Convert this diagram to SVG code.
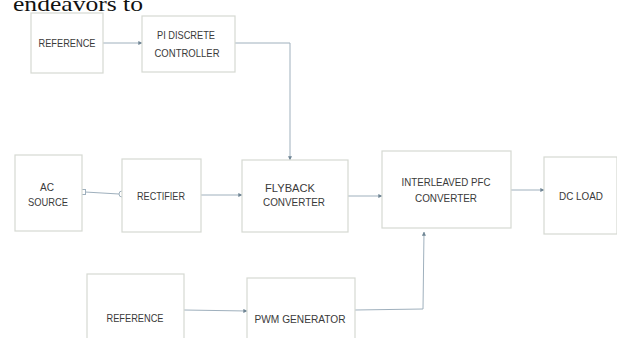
<svg xmlns="http://www.w3.org/2000/svg" width="617" height="338" viewBox="0 0 617 338">
<defs>
<style>
.box{fill:#ffffff;stroke:#d6d9d2;stroke-width:1.2}
.lbl{font-family:"Liberation Sans",Arial,sans-serif;font-size:11px;fill:#3a3a3a;text-anchor:middle;dominant-baseline:central}
.con{fill:none;stroke:#9fb0bd;stroke-width:1}
</style>
<marker id="arr" viewBox="0 0 6 6" refX="5.5" refY="3" markerWidth="4" markerHeight="4" orient="auto" markerUnits="userSpaceOnUse">
<path d="M0,0 L6,3 L0,6 z" fill="#6f8594"/>
</marker>
</defs>
<rect width="617" height="338" fill="#ffffff"/>
<text x="13" y="11" font-family="Liberation Serif,serif" font-size="22" fill="#111" textLength="130" lengthAdjust="spacingAndGlyphs">endeavors to</text>
<g id="connectors">
<path class="con" d="M103,43 L142,43" marker-end="url(#arr)"/>
<path class="con" d="M235,43 L290,43 L290,160" marker-end="url(#arr)"/>
<path class="con" d="M85,192 L119,194"/>
<path class="con" d="M201,195 L242,195" marker-end="url(#arr)"/>
<path class="con" d="M348,196 L382,196" marker-end="url(#arr)"/>
<path class="con" d="M511,190 L544,190" marker-end="url(#arr)"/>
<path class="con" d="M184,310 L247,311" marker-end="url(#arr)"/>
<path class="con" d="M355,310 L423,309 L424,232" marker-end="url(#arr)"/>
<rect x="80.5" y="189.5" width="5" height="5" fill="#ffffff" stroke="#9fb0bd" stroke-width="1"/>
<path d="M122,191 A3,3 0 0 0 122,197" fill="#ffffff" stroke="#9fb0bd" stroke-width="1"/>
</g>
<g id="reference-top">
<rect class="box" x="31" y="13" width="72" height="60"/>
<text class="lbl" x="67" y="43" textLength="57" lengthAdjust="spacingAndGlyphs">REFERENCE</text>
</g>
<g id="pi-controller">
<rect class="box" x="142" y="16" width="93" height="56"/>
<text class="lbl" x="186" y="35" textLength="58" lengthAdjust="spacingAndGlyphs">PI DISCRETE</text>
<text class="lbl" x="187" y="53" textLength="65" lengthAdjust="spacingAndGlyphs">CONTROLLER</text>
</g>
<g id="ac-source">
<rect class="box" x="15" y="155" width="67" height="76"/>
<text class="lbl" x="47" y="187" textLength="14" lengthAdjust="spacingAndGlyphs">AC</text>
<text class="lbl" x="48" y="202" textLength="40" lengthAdjust="spacingAndGlyphs">SOURCE</text>
</g>
<g id="rectifier">
<rect class="box" x="122" y="159" width="79" height="73"/>
<text class="lbl" x="161" y="196" textLength="48" lengthAdjust="spacingAndGlyphs">RECTIFIER</text>
</g>
<g id="flyback">
<rect class="box" x="242" y="160" width="106" height="72"/>
<text class="lbl" x="290" y="188" textLength="50" lengthAdjust="spacingAndGlyphs">FLYBACK</text>
<text class="lbl" x="294" y="202" textLength="62" lengthAdjust="spacingAndGlyphs">CONVERTER</text>
</g>
<g id="interleaved-pfc">
<rect class="box" x="382" y="151" width="129" height="77"/>
<text class="lbl" x="446" y="182" textLength="89" lengthAdjust="spacingAndGlyphs">INTERLEAVED PFC</text>
<text class="lbl" x="446" y="198" textLength="62" lengthAdjust="spacingAndGlyphs">CONVERTER</text>
</g>
<g id="dc-load">
<rect class="box" x="544" y="157" width="73" height="77"/>
<text class="lbl" x="581" y="196" textLength="44" lengthAdjust="spacingAndGlyphs">DC LOAD</text>
</g>
<g id="reference-bottom">
<rect class="box" x="87" y="274" width="97" height="70"/>
<text class="lbl" x="135" y="318" textLength="57" lengthAdjust="spacingAndGlyphs">REFERENCE</text>
</g>
<g id="pwm-generator">
<rect class="box" x="247" y="278" width="108" height="66"/>
<text class="lbl" x="300" y="319" textLength="91" lengthAdjust="spacingAndGlyphs">PWM GENERATOR</text>
</g>
</svg>
